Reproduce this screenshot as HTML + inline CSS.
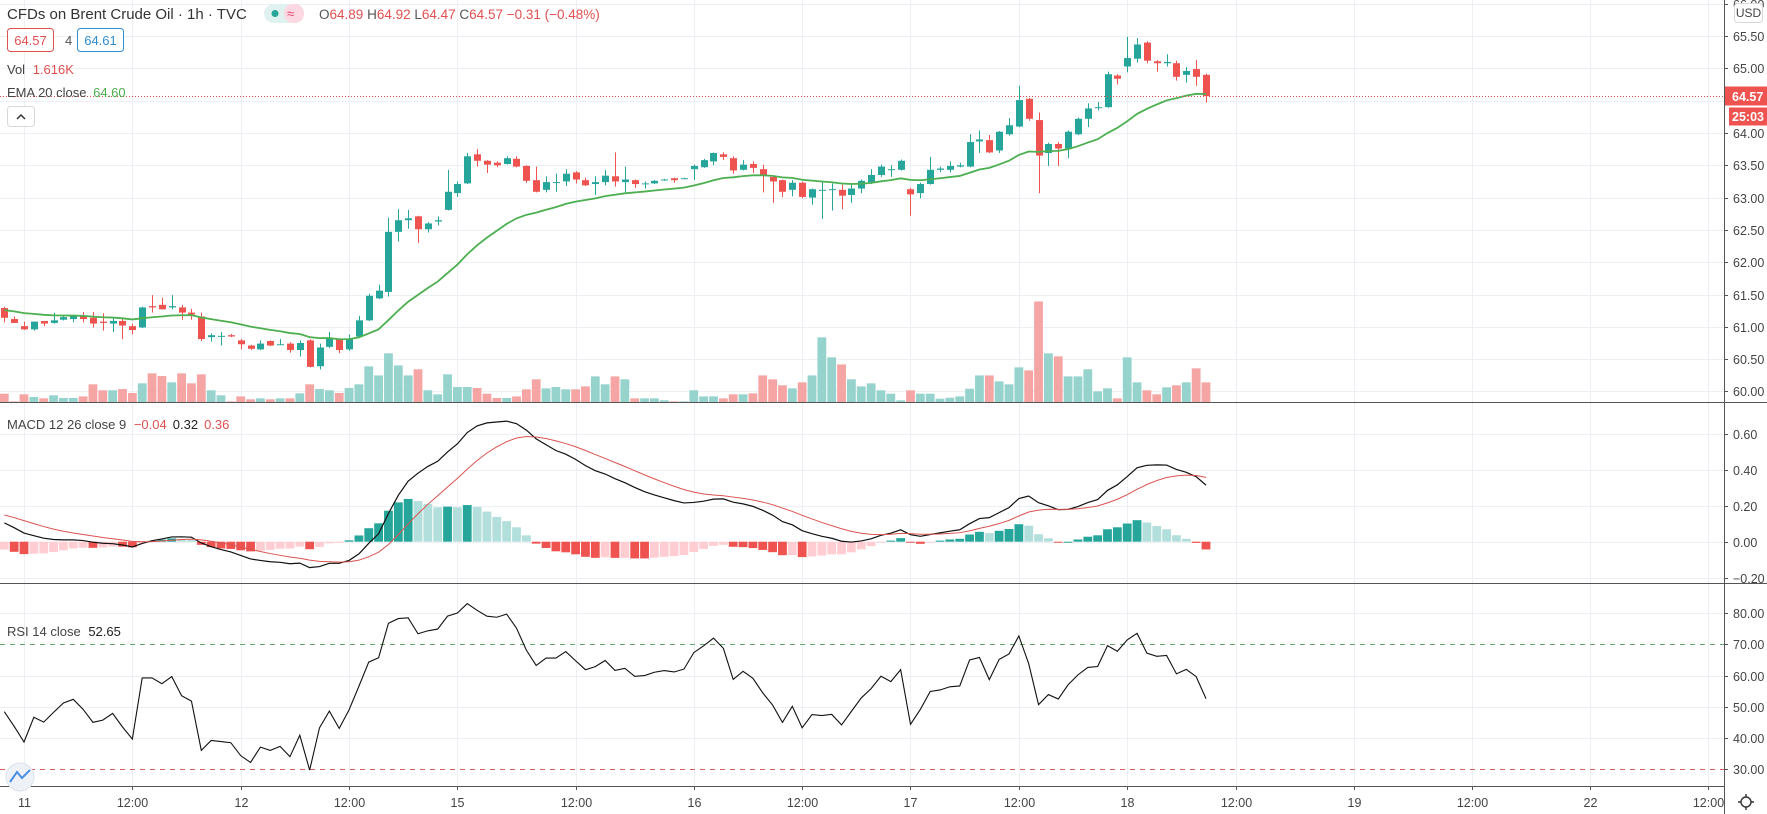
<!DOCTYPE html>
<html><head><meta charset="utf-8"><style>
html,body{margin:0;padding:0;background:#fff;}
svg{display:block;font-family:"Liberation Sans",sans-serif;}
</style></head><body>
<svg id="chart" width="1767" height="814" viewBox="0 0 1767 814">
<defs>
<clipPath id="cMain"><rect x="0" y="0" width="1724" height="402"/></clipPath>
<clipPath id="cMacd"><rect x="0" y="404" width="1724" height="179"/></clipPath>
<clipPath id="cRsi"><rect x="0" y="584" width="1724" height="202"/></clipPath>
</defs>
<g id="grid"></g>
<g id="vol" clip-path="url(#cMain)"></g>
<g id="candles" clip-path="url(#cMain)"></g>
<g id="ema" clip-path="url(#cMain)"></g>
<g id="macd" clip-path="url(#cMacd)"></g>
<g id="rsi" clip-path="url(#cRsi)"></g>
<g id="axes"></g>

<g font-size="15">
<text x="7" y="19" fill="#333">CFDs on Brent Crude Oil · 1h · TVC</text>
<rect x="264" y="4" width="40" height="19" rx="9.5" fill="#e0f2ef"/>
<rect x="284" y="4" width="20" height="19" rx="9" fill="#fcd9e2"/>
<circle cx="275" cy="13.5" r="3.5" fill="#26a69a"/>
<text x="287" y="18" font-size="13" fill="#e0406a">≈</text>
<text x="319" y="19" font-size="13.5"><tspan fill="#555">O</tspan><tspan fill="#e05050">64.89 </tspan><tspan fill="#555">H</tspan><tspan fill="#e05050">64.92 </tspan><tspan fill="#555">L</tspan><tspan fill="#e05050">64.47 </tspan><tspan fill="#555">C</tspan><tspan fill="#e05050">64.57  −0.31 (−0.48%)</tspan></text>
<rect x="7.5" y="28.5" width="46" height="23" rx="3" fill="#fff" stroke="#e05050"/>
<text x="30.5" y="45" font-size="13" fill="#e05050" text-anchor="middle">64.57</text>
<text x="65" y="45" font-size="13" fill="#555">4</text>
<rect x="77.5" y="28.5" width="46" height="23" rx="3" fill="#fff" stroke="#2f8ccf"/>
<text x="100.5" y="45" font-size="13" fill="#2f8ccf" text-anchor="middle">64.61</text>
<text x="7" y="74" font-size="13" fill="#444">Vol <tspan fill="#e05050" dx="4">1.616K</tspan></text>
<text x="7" y="97" font-size="13" fill="#444">EMA 20 close <tspan fill="#4caf50" dx="3">64.60</tspan></text>
<rect x="7.5" y="106.5" width="27" height="20" rx="3" fill="#fff" stroke="#d6d9de"/>
<path d="M17 119 L21 115 L25 119" fill="none" stroke="#333" stroke-width="1.5"/>
<text x="7" y="429" font-size="13" fill="#444">MACD 12 26 close 9 <tspan fill="#e05050" dx="4">−0.04</tspan><tspan fill="#222" dx="6">0.32</tspan><tspan fill="#e05050" dx="6">0.36</tspan></text>
<text x="7" y="636" font-size="13" fill="#444">RSI 14 close <tspan fill="#222" dx="4">52.65</tspan></text>
</g>
<g>
<circle cx="20" cy="777" r="14" fill="#eef1f6" stroke="#dfe3ea"/>
<path d="M10 782 L17 772 L22 778 L30 770" fill="none" stroke="#4a90e2" stroke-width="2"/>
</g>
<rect x="1734.5" y="3.5" width="28" height="19" rx="3" fill="#fff" stroke="#d6d9de"/>
<text x="1748.5" y="17" font-size="12" fill="#444" text-anchor="middle">USD</text>
<g transform="translate(1746,802)">
<circle r="5" fill="none" stroke="#333" stroke-width="1.4"/>
<path d="M0 -8 V-5 M0 5 V8 M-8 0 H-5 M5 0 H8" stroke="#333" stroke-width="1.4"/>
</g>
</svg>
<script>
const opens=[61.29,61.12,61.01,60.96,61.09,61.06,61.11,61.12,61.17,61.14,61.08,61.05,61.09,61.01,60.99,61.32,61.34,61.30,61.30,61.22,61.16,60.84,60.85,60.87,60.79,60.71,60.65,60.78,60.73,60.74,60.64,60.79,60.39,60.69,60.81,60.65,60.85,61.10,61.44,61.54,62.47,62.65,62.71,62.51,62.63,62.81,63.07,63.22,63.67,63.57,63.54,63.52,63.60,63.49,63.27,63.12,63.24,63.25,63.39,63.27,63.21,63.24,63.33,63.24,63.27,63.21,63.22,63.27,63.30,63.30,63.44,63.47,63.56,63.67,63.61,63.43,63.52,63.44,63.32,63.27,63.12,63.23,63.00,63.11,63.13,63.12,63.04,63.14,63.24,63.35,63.43,63.43,63.13,63.07,63.21,63.43,63.43,63.48,63.48,63.87,63.89,63.73,63.98,64.10,64.53,64.20,63.69,63.83,63.76,63.98,64.22,64.40,64.40,64.89,65.03,65.15,65.40,65.11,65.08,65.08,64.90,64.99,64.90];
const closes=[61.14,61.06,60.96,61.08,61.05,61.10,61.15,61.17,61.12,61.05,61.06,61.09,61.02,60.95,61.30,61.30,61.27,61.32,61.22,61.19,60.81,60.87,60.86,60.85,60.73,60.66,60.74,60.71,60.73,60.64,60.75,60.38,60.68,60.83,60.64,60.82,61.10,61.48,61.56,62.47,62.65,62.68,62.51,62.60,62.65,63.09,63.21,63.64,63.57,63.51,63.50,63.61,63.48,63.26,63.09,63.24,63.24,63.37,63.28,63.19,63.24,63.34,63.25,63.28,63.21,63.22,63.26,63.28,63.27,63.30,63.49,63.58,63.69,63.63,63.42,63.51,63.46,63.35,63.25,63.09,63.23,63.01,63.13,63.12,63.13,63.03,63.14,63.26,63.35,63.48,63.44,63.57,63.05,63.21,63.43,63.45,63.49,63.50,63.86,63.90,63.70,64.02,64.12,64.51,64.22,63.65,63.83,63.76,64.02,64.22,64.38,64.40,64.91,64.84,65.16,65.37,65.12,65.08,65.10,64.87,64.96,64.87,64.57];
const highs=[61.31,61.16,61.08,61.08,61.09,61.22,61.18,61.18,61.23,61.23,61.21,61.15,61.12,61.05,61.31,61.49,61.45,61.49,61.34,61.28,61.22,60.90,60.92,60.89,60.81,60.72,60.79,60.79,60.81,60.76,60.79,60.81,60.74,60.92,60.82,60.88,61.17,61.51,61.65,62.69,62.82,62.81,62.72,62.62,62.71,63.43,63.25,63.69,63.75,63.58,63.56,63.64,63.64,63.50,63.48,63.33,63.37,63.44,63.41,63.31,63.33,63.43,63.70,63.48,63.28,63.25,63.27,63.29,63.31,63.31,63.51,63.60,63.70,63.70,63.64,63.58,63.56,63.51,63.33,63.28,63.27,63.25,63.14,63.25,63.22,63.20,63.20,63.28,63.44,63.51,63.50,63.59,63.15,63.23,63.63,63.48,63.56,63.54,63.98,64.04,63.97,64.03,64.23,64.73,64.54,64.32,63.85,63.86,64.04,64.24,64.46,64.48,64.95,64.91,65.49,65.47,65.42,65.13,65.22,65.12,65.02,65.13,64.92];
const lows=[61.07,61.06,60.95,60.94,61.01,61.05,61.10,61.07,61.07,60.99,60.94,60.92,60.81,60.88,60.98,61.22,61.27,61.27,61.11,61.11,60.78,60.77,60.71,60.84,60.65,60.64,60.64,60.70,60.72,60.60,60.54,60.37,60.34,60.67,60.59,60.63,60.84,61.09,61.43,61.47,62.32,62.52,62.30,62.46,62.57,62.80,63.01,63.21,63.48,63.38,63.47,63.51,63.47,63.23,63.08,63.08,63.09,63.18,63.22,63.18,63.04,63.19,63.17,63.08,63.15,63.14,63.21,63.26,63.23,63.29,63.27,63.46,63.50,63.58,63.37,63.42,63.38,63.08,62.92,63.01,63.02,62.99,62.89,62.67,62.80,62.82,62.92,63.07,63.21,63.32,63.32,63.42,62.72,62.99,63.20,63.39,63.39,63.47,63.47,63.69,63.69,63.69,63.96,64.09,64.19,63.07,63.49,63.49,63.61,63.97,64.09,64.35,64.39,64.75,64.94,65.09,65.08,64.95,65.03,64.81,64.78,64.73,64.47];
const volumes=[0.68,0.05,0.63,0.41,0.30,0.55,0.33,0.33,0.46,1.45,0.96,0.96,1.06,0.74,1.53,2.35,2.13,1.61,2.35,1.53,2.27,0.96,0.55,0.05,0.46,0.22,0.30,0.22,0.30,0.30,0.71,1.45,1.06,0.96,0.74,1.15,1.45,2.92,2.18,3.99,3.00,2.18,2.68,0.96,0.63,2.27,1.23,1.23,1.15,0.68,0.33,0.33,0.46,1.04,1.86,1.12,1.23,1.04,1.04,1.28,2.10,1.45,2.10,1.86,0.30,0.30,0.30,0.14,0.05,0.05,0.96,0.46,0.46,0.30,0.63,0.63,0.71,2.18,1.86,1.37,1.12,1.61,2.18,5.30,3.66,3.08,1.86,1.28,1.53,0.96,0.68,0.14,0.96,0.68,0.68,0.27,0.35,0.46,1.09,2.18,2.18,1.69,1.45,2.84,2.59,8.24,3.99,3.74,2.10,2.10,2.68,0.87,1.12,0.30,3.66,1.61,0.96,0.63,1.20,1.37,1.61,2.76,1.61];
const timeLabels=["11","12:00","12","12:00","15","12:00","16","12:00","17","12:00","18","12:00","19","12:00","22","12:00"];
const timeTickBars=[2,13,24,35,46,58,70,81,92,103,114,125,137,149,161,173];
const priceTicks=[66.0,65.5,65.0,64.5,64.0,63.5,63.0,62.5,62.0,61.5,61.0,60.5,60.0];
const macdTicks=[0.6,0.4,0.2,0.0,-0.2];
const rsiTicks=[80,70,60,50,40,30];
const emaSeed=[61.27];
const macdSeeds=[61.33,61.20,0.16];
const rsiSeeds=[0.030,0.032];

const NS="http://www.w3.org/2000/svg";
function mk(tag,attrs,parent){const e=document.createElementNS(NS,tag);for(const k in attrs)e.setAttribute(k,attrs[k]);parent.appendChild(e);return e;}
const xB=i=>4.3+i*9.85;
const yP=p=>133+(64-p)*64.6;
const yM=v=>541.7-v*179;
const yR=v=>644.3-(v-70)*3.12;
const yV=v=>402-v*12.2;
const AX=1724;
const grid=document.getElementById('grid'),axes=document.getElementById('axes');

timeTickBars.forEach((b,k)=>{
  const x=Math.round(xB(b))+0.5;
  const l=mk('line',{x1:x,x2:x,y1:0,y2:786,stroke:'#eceff3'},grid);
  
  
  mk('line',{x1:x,x2:x,y1:786,y2:790,stroke:'#555'},axes);
  const t=mk('text',{x:x,y:807,'font-size':12.5,fill:'#444','text-anchor':'middle'},axes);
  t.textContent=timeLabels[k];
  
  
});
priceTicks.forEach(p=>{
  const y=Math.round(yP(p))+0.5;
  mk('line',{x1:0,x2:AX,y1:y,y2:y,stroke:'#eceff3'},grid);
  mk('line',{x1:AX,x2:AX+4,y1:y,y2:y,stroke:'#555'},axes);
  if(p===64.5)return;
  const t=mk('text',{x:AX+9,y:y+4.5,'font-size':12.5,fill:'#444'},axes);
  t.textContent=p.toFixed(2);
  
  
});
macdTicks.forEach(v=>{
  const y=Math.round(yM(v))+0.5;
  mk('line',{x1:0,x2:AX,y1:y,y2:y,stroke:'#eceff3'},grid);
  mk('line',{x1:AX,x2:AX+4,y1:y,y2:y,stroke:'#555'},axes);
  const t=mk('text',{x:AX+9,y:y+4.5,'font-size':12.5,fill:'#444'},axes);
  t.textContent=(v<0?'−':'')+Math.abs(v).toFixed(2);
  
  
});
rsiTicks.forEach(v=>{
  const y=Math.round(yR(v))+0.5;
  if(v===70||v===30){
    const d=mk('line',{x1:0,x2:AX,y1:y,y2:y,stroke:v===70?'#5fa867':'#d0605a','stroke-dasharray':'5,5'},grid);
    
    
  } else mk('line',{x1:0,x2:AX,y1:y,y2:y,stroke:'#eceff3'},grid);
  mk('line',{x1:AX,x2:AX+4,y1:y,y2:y,stroke:'#555'},axes);
  const t=mk('text',{x:AX+9,y:y+4.5,'font-size':12.5,fill:'#444'},axes);
  t.textContent=v.toFixed(2);
  
  
});
mk('line',{x1:0,x2:1767,y1:402.5,y2:402.5,stroke:'#555'},axes);
mk('line',{x1:0,x2:1767,y1:583.5,y2:583.5,stroke:'#555'},axes);
mk('line',{x1:0,x2:AX,y1:786.5,y2:786.5,stroke:'#555'},axes);
mk('line',{x1:AX+0.5,x2:AX+0.5,y1:0,y2:814,stroke:'#555'},axes);

const vg=document.getElementById('vol');
volumes.forEach((v,i)=>{
  const up=closes[i]>=opens[i];
  const r=mk('rect',{x:xB(i)-4.4,y:yV(v),width:8.8,height:402-yV(v),fill:up?'#96d3cd':'#f5a6a4'},vg);
  
  
});
const cg=document.getElementById('candles');
closes.forEach((c,i)=>{
  const o=opens[i],h=Math.max(highs[i],o,c),l=Math.min(lows[i],o,c);
  const up=c>=o,col=up?'#26a69a':'#ef5350';
  const x=Math.round(xB(i))+0.5;
  mk('line',{x1:x,x2:x,y1:yP(h),y2:yP(l),stroke:col},cg);
  const top=yP(Math.max(o,c)),bh=Math.max(1,yP(Math.min(o,c))-top);
  const r=mk('rect',{x:x-3.5,y:top,width:7,height:bh,fill:col},cg);
  
  
});
let e=emaSeed[0];const emaVals=closes.map(c=>(e=e+(c-e)*2/21));
const ep=mk('polyline',{points:emaVals.map((v,i)=>xB(i)+','+yP(v)).join(' '),fill:'none',stroke:'#4caf50','stroke-width':1.8},document.getElementById('ema'));


const ly=Math.round(yP(closes[closes.length-1]))+0.5;
mk('line',{x1:0,x2:AX,y1:ly,y2:ly,stroke:'#e05050','stroke-dasharray':'1,2'},axes);
const lb=mk('rect',{x:AX+1,y:ly-10,width:42,height:19,fill:'#ef5350'},axes);


const lt=mk('text',{x:AX+8,y:ly+4.5,'font-size':12.5,fill:'#fff','font-weight':'bold'},axes);lt.textContent=closes[closes.length-1].toFixed(2);
mk('rect',{x:AX+5,y:ly+11,width:38,height:18,fill:'#ef5350'},axes);
const ct=mk('text',{x:AX+8,y:ly+24.5,'font-size':12.5,fill:'#fff','font-weight':'bold'},axes);ct.textContent='25:03';

let e12=macdSeeds[0],e26=macdSeeds[1],sig=macdSeeds[2];
const macdVals=[],sigVals=[],histVals=[];
closes.forEach(c=>{e12+=(c-e12)*2/13;e26+=(c-e26)*2/27;const m=e12-e26;sig+=(m-sig)*2/10;macdVals.push(m);sigVals.push(sig);histVals.push(m-sig);});
const mg=document.getElementById('macd');
histVals.forEach((h,i)=>{
  const prev=i>0?histVals[i-1]:h;
  let col;
  if(h>=0)col=h>=prev?'#26a69a':'#b2dfdb'; else col=h<prev?'#ef5350':'#ffcdd2';
  const y0=yM(0),y1=yM(h);
  const r=mk('rect',{x:xB(i)-4.4,y:Math.min(y0,y1),width:8.8,height:Math.max(1,Math.abs(y1-y0)),fill:col},mg);
  
  
});
const ml=mk('polyline',{points:macdVals.map((v,i)=>xB(i)+','+yM(v)).join(' '),fill:'none',stroke:'#111','stroke-width':1.2},mg);


const sl=mk('polyline',{points:sigVals.map((v,i)=>xB(i)+','+yM(v)).join(' '),fill:'none',stroke:'#d9534f','stroke-width':1},mg);



let ag=rsiSeeds[0],al=rsiSeeds[1],pc=closes[0];
const rsiVals=closes.map((c,i)=>{const d=i?c-pc:0;pc=c;ag=(ag*13+Math.max(d,0))/14;al=(al*13+Math.max(-d,0))/14;return 100-100/(1+ag/al);});
const rl=mk('polyline',{points:rsiVals.map((v,i)=>xB(i)+','+yR(v)).join(' '),fill:'none',stroke:'#111','stroke-width':1.1},document.getElementById('rsi'));


</script>
</body></html>
